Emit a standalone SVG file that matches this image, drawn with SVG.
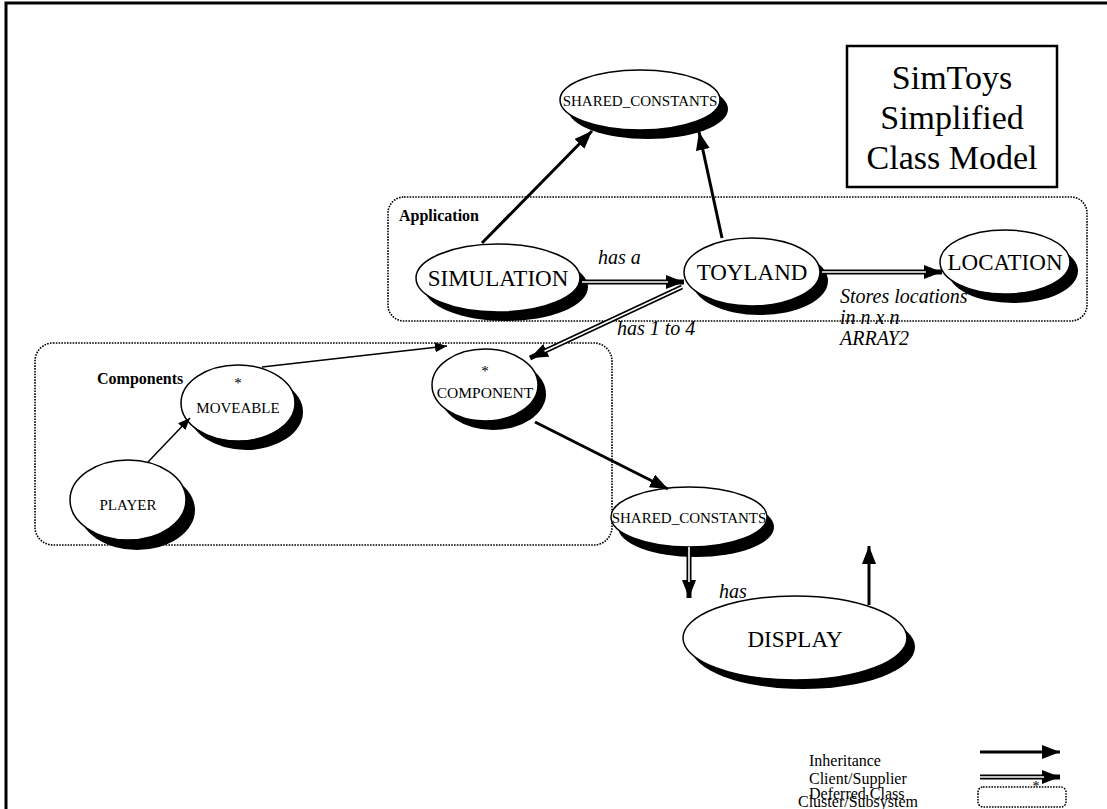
<svg xmlns="http://www.w3.org/2000/svg" width="1107" height="809" viewBox="0 0 1107 809" font-family="'Liberation Serif', 'Times New Roman', 'DejaVu Serif', serif">
<defs>
<style>
text{font-family:'Liberation Serif','Times New Roman','DejaVu Serif',serif;fill:#000}
.nd{fill:#fff;stroke:#000;stroke-width:1.5}
.sh{fill:#000}
.cl{fill:none;stroke:#000;stroke-width:1.6;stroke-dasharray:1.6 1.2}
.inh{fill:none;stroke:#000;stroke-width:3}
.thin{fill:none;stroke:#000;stroke-width:1.5}
.dbl{fill:none;stroke:#000;stroke-width:5}
.dblw{fill:none;stroke:#fff;stroke-width:1.6}
.it{font-style:italic}
</style>
<marker id="ah" markerUnits="userSpaceOnUse" markerWidth="18" markerHeight="14" refX="18" refY="7" orient="auto">
<path d="M0,0 L18,7 L0,14 z" fill="#000"/>
</marker>
<marker id="as" markerUnits="userSpaceOnUse" markerWidth="12" markerHeight="10" refX="12" refY="5" orient="auto">
<path d="M0,0 L12,5 L0,10 z" fill="#000"/>
</marker>
</defs>
<rect width="1107" height="809" fill="#fff"/>
<path d="M6,809 V3 H1107" fill="none" stroke="#000" stroke-width="3"/>

<g id="title">
<rect x="847" y="46" width="210" height="141" fill="#fff" stroke="#000" stroke-width="2.5"/>
<text x="952" y="89" font-size="34" text-anchor="middle">SimToys</text>
<text x="952" y="129" font-size="34" text-anchor="middle">Simplified</text>
<text x="952" y="169" font-size="34" text-anchor="middle">Class Model</text>
</g>

<g id="cluster-application">
<rect class="cl" x="388" y="197" width="699" height="124" rx="16"/>
<text x="399" y="221" font-size="16" font-weight="bold">Application</text>
</g>
<g id="cluster-components">
<rect class="cl" x="35" y="343" width="577" height="202" rx="18"/>
<text x="97" y="384" font-size="16" font-weight="bold">Components</text>
</g>

<g id="shared-constants-top">
<ellipse class="sh" cx="648" cy="109" rx="80" ry="30"/>
<ellipse class="nd" cx="640" cy="100" rx="80" ry="30"/>
<text x="640" y="106" font-size="15" text-anchor="middle">SHARED_CONSTANTS</text>
</g>
<g id="simulation">
<ellipse class="sh" cx="506" cy="287" rx="82" ry="34"/>
<ellipse class="nd" cx="498" cy="278" rx="82" ry="34"/>
<text x="498" y="286" font-size="23" text-anchor="middle">SIMULATION</text>
</g>
<g id="toyland">
<ellipse class="sh" cx="760" cy="281" rx="68" ry="34"/>
<ellipse class="nd" cx="752" cy="272" rx="68" ry="34"/>
<text x="752" y="280" font-size="23" text-anchor="middle">TOYLAND</text>
</g>
<g id="location">
<ellipse class="sh" cx="1013" cy="271" rx="65" ry="32"/>
<ellipse class="nd" cx="1005" cy="262" rx="65" ry="32"/>
<text x="1005" y="270" font-size="23" text-anchor="middle">LOCATION</text>
</g>
<g id="component">
<ellipse class="sh" cx="493" cy="394" rx="53" ry="36"/>
<ellipse class="nd" cx="485" cy="385" rx="53" ry="36"/>
<text x="485" y="376" font-size="15" text-anchor="middle">*</text>
<text x="485" y="398" font-size="15.5" text-anchor="middle">COMPONENT</text>
</g>
<g id="moveable">
<ellipse class="sh" cx="246" cy="412" rx="57" ry="38"/>
<ellipse class="nd" cx="238" cy="403" rx="57" ry="38"/>
<text x="238" y="388" font-size="15" text-anchor="middle">*</text>
<text x="238" y="413" font-size="15" text-anchor="middle">MOVEABLE</text>
</g>
<g id="player">
<ellipse class="sh" cx="137" cy="510" rx="58" ry="40"/>
<ellipse class="nd" cx="128" cy="500" rx="58" ry="40"/>
<text x="128" y="510" font-size="15" text-anchor="middle">PLAYER</text>
</g>
<g id="shared-constants-bottom">
<ellipse class="sh" cx="696" cy="527" rx="78" ry="30"/>
<ellipse class="nd" cx="689" cy="517" rx="78" ry="30"/>
<text x="689" y="523" font-size="15" text-anchor="middle">SHARED_CONSTANTS</text>
</g>
<g id="display">
<ellipse class="sh" cx="803" cy="647" rx="112" ry="42"/>
<ellipse class="nd" cx="795" cy="638" rx="112" ry="42"/>
<text x="795" y="647" font-size="23" text-anchor="middle">DISPLAY</text>
</g>

<g id="connectors">
<path class="inh" d="M482,243 L592,131" marker-end="url(#ah)"/>
<path class="inh" d="M722,238 L699,132" marker-end="url(#ah)"/>
<path class="dbl" d="M582,282 L684,282" marker-end="url(#ah)"/>
<path class="dblw" d="M582,282 L668,282"/>
<text class="it" x="598" y="264" font-size="20">has a</text>
<path class="dbl" d="M822,272 L942,272" marker-end="url(#ah)"/>
<path class="dblw" d="M822,272 L926,272"/>
<text class="it" x="840" y="303" font-size="20">Stores locations</text>
<text class="it" x="840" y="324" font-size="20">in n x n</text>
<text class="it" x="840" y="345" font-size="20">ARRAY2</text>
<path class="dbl" d="M682,287 L530,358" marker-end="url(#ah)"/>
<path class="dblw" d="M682,287 L544.5,351.2"/>
<text class="it" x="617" y="335" font-size="20">has 1 to 4</text>
<path class="thin" d="M262,367 L447,346" marker-end="url(#as)"/>
<path class="thin" d="M148,462 L190,418" marker-end="url(#as)"/>
<path class="inh" d="M535,422 L668,489" marker-end="url(#ah)"/>
<path class="dbl" d="M689,547 L689,598" marker-end="url(#ah)"/>
<path class="dblw" d="M689,547 L689,582"/>
<text class="it" x="719" y="598" font-size="20">has</text>
<path class="inh" d="M869,605 L869,546" marker-end="url(#ah)"/>
</g>

<g id="legend">
<path class="inh" d="M980,752 L1060,752" marker-end="url(#ah)"/>
<path class="dbl" d="M980,777 L1060,777" marker-end="url(#ah)"/>
<path class="dblw" d="M980,777 L1044,777"/>
<rect class="cl" x="978" y="787" width="88" height="20" rx="5"/>
<text x="1036" y="791" font-size="14" text-anchor="middle">*</text>
<text x="809" y="766" font-size="16">Inheritance</text>
<text x="809" y="784" font-size="16">Client/Supplier</text>
<text x="809" y="799" font-size="16">Deferred Class</text>
<text x="798" y="807" font-size="16">Cluster/Subsystem</text>
</g>
</svg>
